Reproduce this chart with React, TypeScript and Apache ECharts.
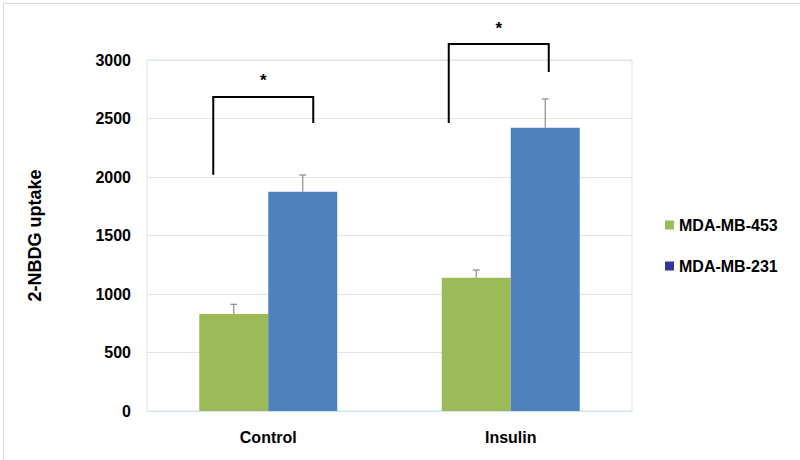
import React, { useEffect, useRef } from "react";
import * as echarts from "echarts";

const categories = ["Control", "Insulin"];
const seriesNames = ["MDA-MB-453", "MDA-MB-231"];
const mda453 = [830, 1138];
const mda453Err = [82, 67];
const mda231 = [1873, 2420];
const mda231Err = [144, 247];
const yTicks = [0, 500, 1000, 1500, 2000, 2500, 3000];
const bracketLeftBottom = [2020, 2462];
const bracketTop = [2684, 3137];
const bracketRightBottom = [2462, 2897];
const starValue = [2855, 3300];
const starText = ["*", "*"];

const GREEN = "#9BBB59";
const BLUE = "#4F81BD";
const NAVY = "#333399";
const BAR_W = 69;
const BRACKET_DX = [
  [-55, 45],
  [-62, 38],
];
const FONT = "Liberation Sans, Arial, sans-serif";

export default function App() {
  const ref = useRef<HTMLDivElement>(null);
  useEffect(() => {
    document.body.style.margin = "0";
    const chart = echarts.init(ref.current!, null, { renderer: "svg" });
    const errData = [
      ...categories.map((_, i) => [i, mda453[i], mda453[i] + mda453Err[i], 0]),
      ...categories.map((_, i) => [i, mda231[i], mda231[i] + mda231Err[i], 1]),
    ];
    const bracketData = categories.map((_, i) => [
      i,
      bracketLeftBottom[i],
      bracketTop[i],
      bracketRightBottom[i],
      starValue[i],
    ]);
    chart.setOption({
      animation: false,
      backgroundColor: "#ffffff",
      textStyle: { fontFamily: FONT },
      grid: {
        left: 147,
        right: 168,
        top: 60,
        bottom: 49,
        show: true,
        borderColor: "#cfe7eb",
        borderWidth: 1,
      },
      legend: {
        orient: "vertical",
        left: 660,
        top: 212,
        itemWidth: 9,
        itemHeight: 9,
        itemGap: 25,
        icon: "rect",
        textStyle: { fontFamily: FONT, fontWeight: "bold", fontSize: 16, color: "#000" },
        data: [
          { name: seriesNames[0], itemStyle: { color: GREEN } },
          { name: seriesNames[1], itemStyle: { color: NAVY } },
        ],
      },
      xAxis: {
        type: "category",
        data: categories,
        axisLine: { show: true, lineStyle: { color: "#cfe7eb" } },
        axisTick: { show: false },
        axisLabel: {
          fontFamily: FONT,
          fontWeight: "bold",
          fontSize: 16,
          color: "#000",
          margin: 18,
        },
      },
      yAxis: {
        type: "value",
        min: 0,
        max: 3000,
        interval: 500,
        name: "2-NBDG uptake",
        nameLocation: "middle",
        nameGap: 103,
        nameTextStyle: { fontFamily: FONT, fontWeight: "bold", fontSize: 18, color: "#000" },
        axisLine: { show: false },
        axisTick: { show: false },
        splitLine: { lineStyle: { color: "#e4e4e4" } },
        axisLabel: {
          fontFamily: FONT,
          fontWeight: "bold",
          fontSize: 16,
          color: "#000",
          margin: 16,
          formatter: (v: number) => (yTicks.includes(v) ? String(v) : ""),
        },
      },
      series: [
        {
          name: seriesNames[0],
          type: "bar",
          data: mda453,
          barWidth: BAR_W,
          barGap: "0%",
          itemStyle: { color: GREEN },
        },
        {
          name: seriesNames[1],
          type: "bar",
          data: mda231,
          barWidth: BAR_W,
          barGap: "0%",
          itemStyle: { color: BLUE },
        },
        {
          type: "custom",
          clip: false,
          silent: true,
          z: 5,
          data: errData,
          renderItem: (params: any, api: any) => {
            const cat = api.value(0);
            const s = api.value(3);
            const dx = s === 0 ? -BAR_W / 2 : BAR_W / 2;
            const p0 = api.coord([cat, api.value(1)]);
            const p1 = api.coord([cat, api.value(2)]);
            const x = p0[0] + dx;
            const style = { stroke: "#8c8c8c", lineWidth: 1.2 };
            return {
              type: "group",
              children: [
                { type: "line", shape: { x1: x, y1: p0[1], x2: x, y2: p1[1] }, style },
                { type: "line", shape: { x1: x - 3.5, y1: p1[1], x2: x + 3.5, y2: p1[1] }, style },
              ],
            };
          },
        },
        {
          type: "custom",
          clip: false,
          silent: true,
          z: 6,
          data: bracketData,
          renderItem: (params: any, api: any) => {
            const cat = api.value(0);
            const i = params.dataIndex;
            const c = api.coord([cat, 0]);
            const lx = c[0] + BRACKET_DX[i][0];
            const rx = c[0] + BRACKET_DX[i][1];
            const yl = api.coord([cat, api.value(1)])[1];
            const yt = api.coord([cat, api.value(2)])[1];
            const yr = api.coord([cat, api.value(3)])[1];
            const ys = api.coord([cat, api.value(4)])[1];
            return {
              type: "group",
              children: [
                {
                  type: "polyline",
                  shape: { points: [[lx, yl], [lx, yt], [rx, yt], [rx, yr]] },
                  style: { stroke: "#000", lineWidth: 2, fill: "none" },
                },
                {
                  type: "text",
                  x: (lx + rx) / 2,
                  y: ys + 4,
                  style: {
                    text: starText[i],
                    fontFamily: FONT,
                    fontWeight: "bold",
                    fontSize: 17,
                    fill: "#000",
                    align: "center",
                    verticalAlign: "middle",
                  },
                },
              ],
            };
          },
        },
      ],
      graphic: [
        {
          type: "rect",
          left: 1,
          top: 1,
          shape: { width: 797, height: 457 },
          style: { fill: "none", stroke: "#d9d9d9", lineWidth: 1 },
          silent: true,
        },
      ],
    });
    return () => chart.dispose();
  }, []);
  return <div ref={ref} style={{ width: 800, height: 460 }} />;
}
